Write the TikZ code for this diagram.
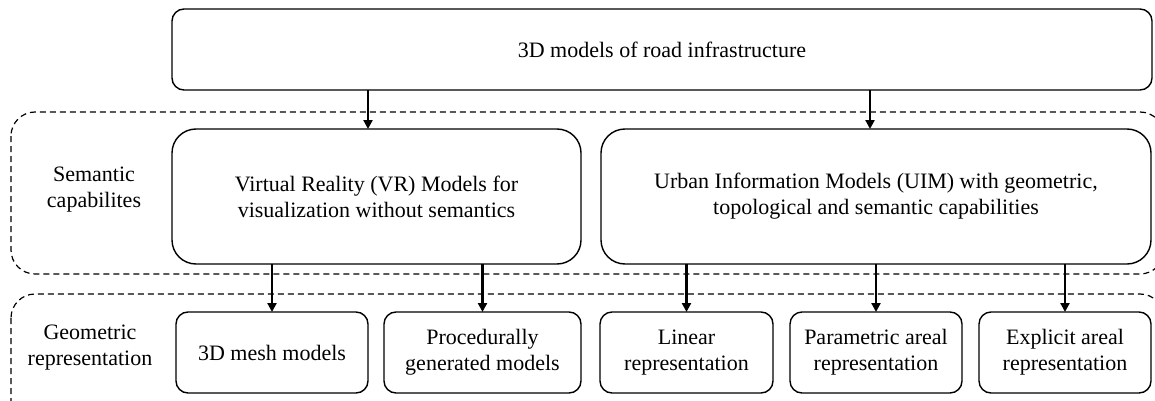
\documentclass[tikz,border=0pt]{standalone}
\usepackage{fontspec}
\setmainfont{Liberation Serif}
\usetikzlibrary{arrows.meta}
\begin{document}
\begin{tikzpicture}[x=0.5pt,y=-0.5pt,
  every node/.style={inner sep=0pt,outer sep=0pt,align=center,
    font=\fontsize{11pt}{13pt}\selectfont},
  box/.style={draw,line width=0.7pt,rounded corners=6pt},
  bigbox/.style={draw,line width=0.7pt,rounded corners=12pt},
  group/.style={draw,dashed,dash pattern=on 3pt off 2pt,line width=0.6pt,rounded corners=12pt},
  arr/.style={line width=1.1pt,-{Triangle[length=4.5pt,width=4.5pt]}}]
\clip (0,0) rectangle (1155,401);
\useasboundingbox (0,0) rectangle (1155,401);

% dashed layer frames
\draw[group] (11,112) rectangle (1164,274);
\draw[group] (11,294) rectangle (1164,430);

% layer labels
\node (lsem) at (94,190) {Semantic\\capabilites};
\node (lgeo) at (90,348) {Geometric\\representation};

% top level
\node[box,minimum width=490pt,minimum height=40.5pt] (top) at (662,49.5)
  {3D models of road infrastructure};

% semantic level
\node[bigbox,minimum width=204.5pt,minimum height=67.5pt] (vr) at (376.5,196.5)
  {Virtual Reality (VR) Models for\\visualization without semantics};
\node[bigbox,minimum width=275pt,minimum height=67.5pt] (uim) at (876,196.5)
  {Urban Information Models (UIM) with geometric,\\topological and semantic capabilities};

% geometric level
\node[box,minimum width=96pt,minimum height=40.5pt] (mesh) at (272,352.5) {3D mesh models};
\node[box,minimum width=98.5pt,minimum height=40.5pt] (proc) at (482.5,352.5) {Procedurally\\generated models};
\node[box,minimum width=86.5pt,minimum height=40.5pt] (lin) at (686.5,352.5) {Linear\\representation};
\node[box,minimum width=86pt,minimum height=40.5pt] (par) at (876,352.5) {Parametric areal\\representation};
\node[box,minimum width=86pt,minimum height=40.5pt] (expl) at (1065,352.5) {Explicit areal\\representation};

% connectors
\coordinate (c1) at (368,0);
\coordinate (c2) at (870,0);
\draw[arr] (top.south -| c1) -- (vr.north -| c1);
\draw[arr] (top.south -| c2) -- (uim.north -| c2);
\draw[arr] (vr.south -| mesh.north) -- (mesh.north);
\draw[arr] (vr.south -| proc.north) -- (proc.north);
\draw[arr] (uim.south -| lin.north) -- (lin.north);
\draw[arr] (uim.south -| par.north) -- (par.north);
\draw[arr] (uim.south -| expl.north) -- (expl.north);
\end{tikzpicture}
\end{document}
